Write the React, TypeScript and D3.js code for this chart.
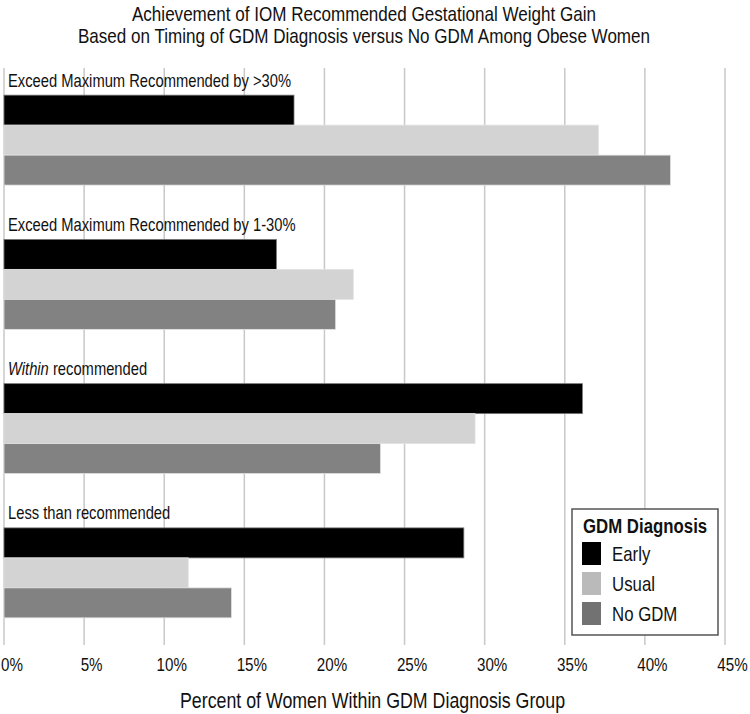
import React, { useEffect, useRef } from "react";
import * as d3 from "d3";

const categories = [
  "Exceed Maximum Recommended by >30%",
  "Exceed Maximum Recommended by 1-30%",
  "Within recommended",
  "Less than recommended",
];
const seriesNames = ["Early", "Usual", "No GDM"];
const earlyValues = [18.1, 17.0, 36.1, 28.7];
const usualValues = [37.1, 21.8, 29.4, 11.5];
const noGdmValues = [41.6, 20.7, 23.5, 14.2];
const tickValues = [0, 5, 10, 15, 20, 25, 30, 35, 40, 45];
const titleLines = [
  "Achievement of IOM Recommended Gestational Weight Gain",
  "Based on Timing of GDM Diagnosis versus No GDM Among Obese Women",
];
const xAxisTitle = "Percent of Women Within GDM Diagnosis Group";
const legendTitle = "GDM Diagnosis";

const barColors = ["#000000", "#d3d3d3", "#828282"];
const swatchColors = ["#000000", "#bababa", "#727272"];
const FONT = "'Liberation Sans', Arial, sans-serif";
const SQUEEZE = 0.82;

const place = (x: number, y: number) => `translate(${x},${y}) scale(${SQUEEZE},1)`;

export default function App() {
  const ref = useRef<SVGSVGElement | null>(null);

  useEffect(() => {
    const svg = d3.select(ref.current);
    svg.selectAll("*").remove();

    const W = 750;
    const H = 714;
    const x = d3.scaleLinear().domain([0, 45]).range([4, 725]);
    const y = d3.scaleBand<string>().domain(categories).range([68, 645]);
    const inner = d3
      .scaleBand<string>()
      .domain(seriesNames)
      .range([0, y.bandwidth()])
      .paddingInner(0)
      .paddingOuter(0.905);

    const valuesBySeries = [earlyValues, usualValues, noGdmValues];

    svg.append("rect").attr("width", W).attr("height", H).attr("fill", "#fff");

    // title
    svg
      .append("g")
      .selectAll("text")
      .data(titleLines)
      .join("text")
      .attr("transform", (_, i) => place(364, 21 + i * 21.5))
      .attr("text-anchor", "middle")
      .attr("font-family", FONT)
      .attr("font-size", 20.8)
      .attr("fill", "#111")
      .text((d) => d);

    // gridlines
    svg
      .append("g")
      .selectAll("line")
      .data(tickValues)
      .join("line")
      .attr("x1", (d) => x(d))
      .attr("x2", (d) => x(d))
      .attr("y1", 68)
      .attr("y2", 645)
      .attr("stroke", "#c8c8c8")
      .attr("stroke-width", 1.5);

    // tick labels
    svg
      .append("g")
      .selectAll("text")
      .data(tickValues)
      .join("text")
      .attr("transform", (d) => place(x(d) + 7.5 + (d === 0 ? 0.5 : 0), 671))
      .attr("text-anchor", "middle")
      .attr("font-family", FONT)
      .attr("font-size", 18.5)
      .attr("fill", "#111")
      .text((d) => `${d}%`);

    // axis title
    svg
      .append("text")
      .attr("transform", place(372.5, 708))
      .attr("text-anchor", "middle")
      .attr("font-family", FONT)
      .attr("font-size", 21.7)
      .attr("fill", "#111")
      .text(xAxisTitle);

    // groups
    const groups = svg
      .append("g")
      .selectAll("g")
      .data(categories)
      .join("g")
      .attr("transform", (d) => `translate(0,${y(d)})`);

    groups.each(function (cat, ci) {
      const g = d3.select(this);
      seriesNames.forEach((s, si) => {
        g.append("rect")
          .attr("x", x(0))
          .attr("y", inner(s) as number)
          .attr("width", x(valuesBySeries[si][ci]) - x(0))
          .attr("height", inner.bandwidth())
          .attr("fill", barColors[si])
          .attr("stroke", si === 0 ? "#777" : "#e2e2e2")
          .attr("stroke-width", 0.8);
      });
      const label = g
        .append("text")
        .attr("transform", place(8, 18.5))
        .attr("font-family", FONT)
        .attr("font-size", 18)
        .attr("fill", "#111");
      if (cat.startsWith("Within")) {
        label.append("tspan").attr("font-style", "italic").text("Within");
        label.append("tspan").text(cat.slice(6));
      } else {
        label.text(cat);
      }
    });

    // legend
    const lg = svg.append("g").attr("transform", "translate(572,509)");
    lg.append("rect")
      .attr("width", 146)
      .attr("height", 126)
      .attr("fill", "#fff")
      .attr("stroke", "#555")
      .attr("stroke-width", 1.5);
    lg.append("text")
      .attr("transform", place(11, 24))
      .attr("font-family", FONT)
      .attr("font-weight", "bold")
      .attr("font-size", 20.5)
      .attr("fill", "#111")
      .text(legendTitle);
    const items = lg
      .selectAll("g.item")
      .data(seriesNames)
      .join("g")
      .attr("class", "item")
      .attr("transform", (_, i) => `translate(10,${33 + i * 30})`);
    items
      .append("rect")
      .attr("width", 19)
      .attr("height", 23)
      .attr("fill", (_, i) => swatchColors[i]);
    items
      .append("text")
      .attr("transform", place(30, 19))
      .attr("font-family", FONT)
      .attr("font-size", 20.5)
      .attr("fill", "#111")
      .text((d) => d);
  }, []);

  return (
    <svg
      ref={ref}
      width={750}
      height={714}
      style={{ position: "absolute", left: 0, top: 0, display: "block" }}
    />
  );
}
